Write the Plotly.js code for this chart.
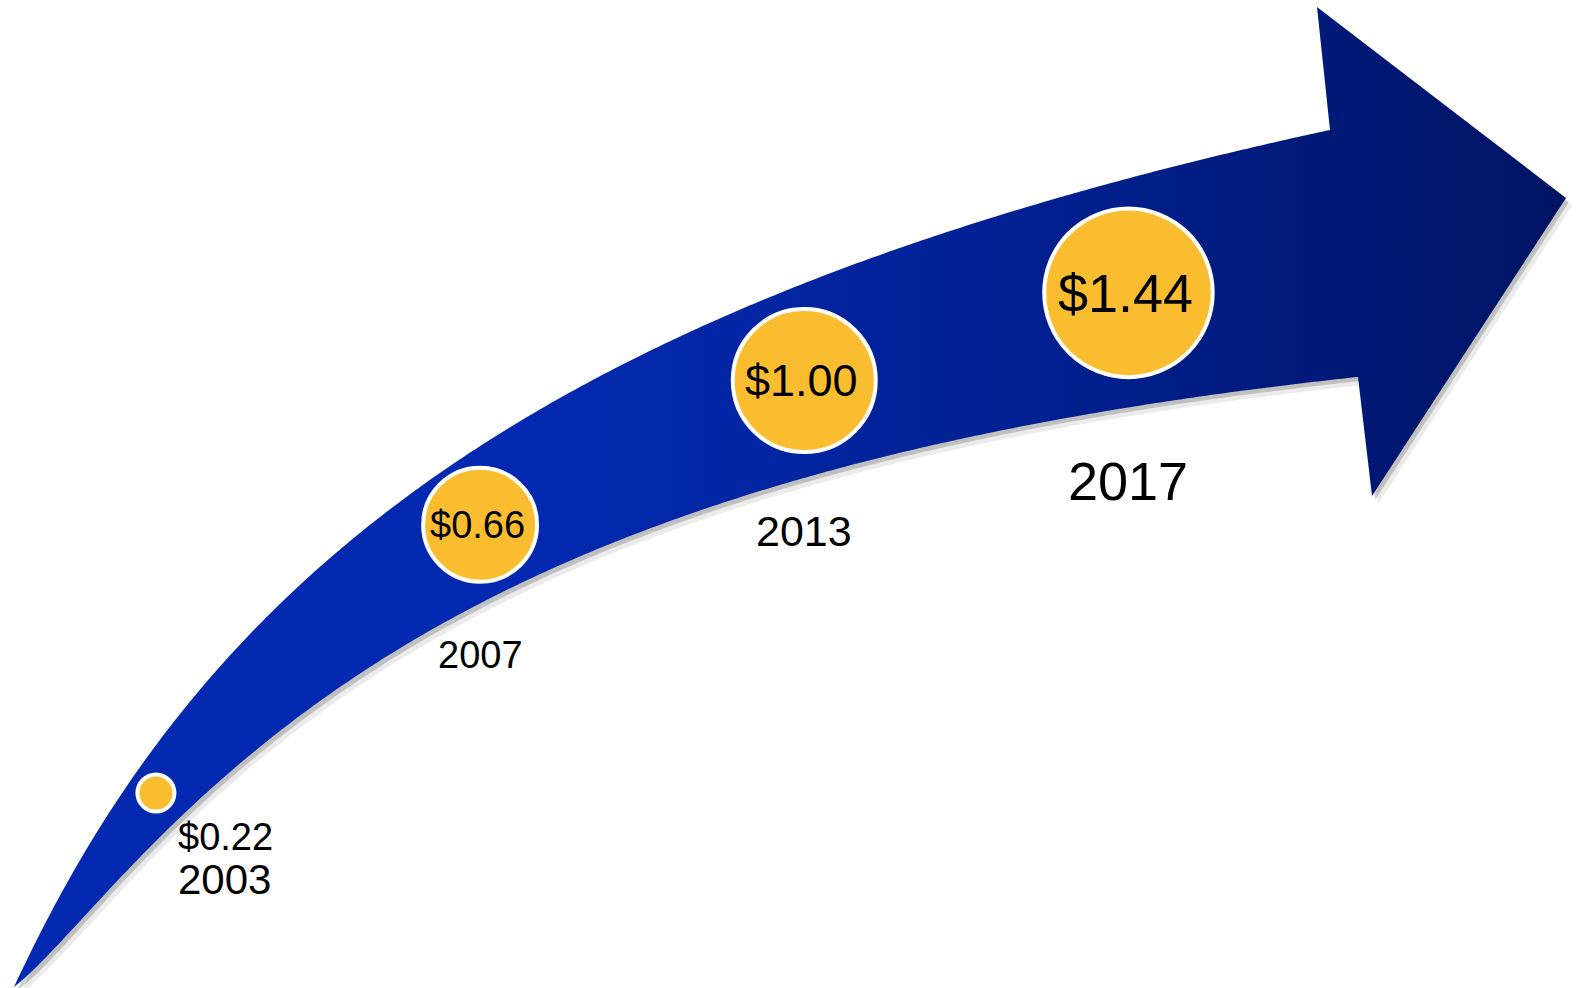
<!DOCTYPE html>
<html><head><meta charset="utf-8">
<script src="https://cdn.plot.ly/plotly-3.0.1.min.js"></script>
<style>html,body{margin:0;padding:0;background:#fff;overflow:hidden}#chart{width:1581px;height:988px}</style>
</head><body><div id="chart"></div>
<script>
// ---------------- data ----------------
const years = ['2003', '2007', '2013', '2017'];
const values = [0.22, 0.66, 1.00, 1.44];
const valueLabels = values.map(v => '$' + v.toFixed(2));

// ---------------- style / decoration ----------------
const W = 1581, H = 988;
const FONT = 'Liberation Sans, Arial, Helvetica, sans-serif';
const valueFont = [38, 38, 45, 54];
const yearFont = [42, 38, 43, 54];
const yearDrop = [86, 130, 150, 188];   // label distance below circle centre (px)
const CAT_RANGE = [-0.481, 4.396];

// decorative arrow: traced edge samples (page pixels), smoothed by a least-squares fit
const EDGE_TOP = [[14,987],[40,927],[67,887],[107,827],[113,797],[133,765],[140,760],[173,737],[183,710],[200,680],[233,650],[240,667],[267,612],[300,583],[400,500],[480,447],[500,433],[600,380],[620,367],[680,333],[700,328],[780,292],[880,250],[1040,202],[1330,130]];
const EDGE_BOTTOM = [[14,987],[40,963],[100,900],[140,863],[187,807],[207,807],[233,757],[300,707],[320,698],[400,647],[433,633],[520,580],[567,573],[633,533],[680,517],[700,513],[733,500],[800,480],[833,470],[880,457],[933,447],[1000,430],[1040,418],[1100,410],[1358,377]];
const ARROW_HEAD = [[1317,7],[1566,198],[1372,496]];

function solve(A, b) {
  const n = b.length;
  for (let i = 0; i < n; i++) {
    let m = i;
    for (let r = i + 1; r < n; r++) if (Math.abs(A[r][i]) > Math.abs(A[m][i])) m = r;
    [A[i], A[m]] = [A[m], A[i]]; [b[i], b[m]] = [b[m], b[i]];
    for (let r = i + 1; r < n; r++) {
      const f = A[r][i] / A[i][i];
      for (let c = i; c < n; c++) A[r][c] -= f * A[i][c];
      b[r] -= f * b[i];
    }
  }
  const x = new Array(n).fill(0);
  for (let i = n - 1; i >= 0; i--) {
    let s = b[i];
    for (let c = i + 1; c < n; c++) s -= A[i][c] * x[c];
    x[i] = s / A[i][i];
  }
  return x;
}
function fitEdge(pts, deg) {
  const u = x => Math.log(x + 120) - 6;
  const n = deg + 1;
  const A = Array.from({length: n}, () => new Array(n).fill(0));
  const b = new Array(n).fill(0);
  pts.forEach((p, i) => {
    const w = (i === 0 || i === pts.length - 1) ? 40 : 1;
    const uu = u(p[0]);
    const pw = []; for (let k = 0; k < n; k++) pw.push(Math.pow(uu, k));
    for (let r = 0; r < n; r++) { b[r] += w * pw[r] * p[1]; for (let c = 0; c < n; c++) A[r][c] += w * pw[r] * pw[c]; }
  });
  const coef = solve(A, b);
  return x => { const uu = u(x); let s = 0; for (let k = 0; k < n; k++) s += coef[k] * Math.pow(uu, k); return s; };
}
const topF = fitEdge(EDGE_TOP, 3);
const botF = fitEdge(EDGE_BOTTOM, 3);
function sampleEdge(f, x0, x1, step) {
  const out = [];
  for (let x = x0; x < x1; x += step) out.push([x, f(x)]);
  out.push([x1, f(x1)]);
  return out;
}
const x0 = 14;
const topS = sampleEdge(topF, x0, 1330, 4);
const botS = sampleEdge(botF, x0, 1358, 4);
const tipY = (topS[0][1] + botS[0][1]) / 2;
topS[0] = [x0, tipY]; botS[0] = [x0, tipY];
const outline = topS.concat(ARROW_HEAD).concat(botS.slice().reverse());

// circles ride on the arrow's centre line
const catPx = years.map((_, i) => (i - CAT_RANGE[0]) / (CAT_RANGE[1] - CAT_RANGE[0]) * W);
const trackY = catPx.map(x => (topF(x) + botF(x)) / 2);
// circle diameter grows with the value
const diam = values.map(v => 147 + 70 * Math.log(v));

function poly(dx, dy, color) {
  return {
    type: 'scatter', mode: 'lines', xaxis: 'x', yaxis: 'y',
    x: outline.map(p => p[0] + dx), y: outline.map(p => p[1] + dy),
    fill: 'toself', fillcolor: color, line: {width: 0, color: 'rgba(0,0,0,0)', simplify: false},
    hoverinfo: 'skip', showlegend: false
  };
}
const arrow = poly(0, 0, '#0229AF');
arrow.fillgradient = {
  type: 'horizontal',
  colorscale: [[0, '#0229B0'], [0.35, '#0229AF'], [0.7, '#011E8C'], [1, '#001462']]
};

const circles = {
  type: 'scatter', mode: 'markers', xaxis: 'x2', yaxis: 'y',
  x: years, y: trackY,
  marker: {size: diam.map(d => d - 4), color: '#FBBD30', line: {color: '#FFFFFF', width: 4}, opacity: 1},
  hoverinfo: 'skip', showlegend: false
};

const annotations = [];
years.forEach((yr, i) => {
  // category axis: annotations use the category's serial index
  if (i === 0) {
    annotations.push({xref: 'x2', yref: 'y', x: i, y: trackY[i], text: valueLabels[i], showarrow: false,
      xanchor: 'left', yanchor: 'middle', xshift: 20, yshift: -44, font: {family: FONT, size: valueFont[i], color: '#000'}});
    annotations.push({xref: 'x2', yref: 'y', x: i, y: trackY[i], text: yr, showarrow: false,
      xanchor: 'left', yanchor: 'middle', xshift: 20, yshift: -yearDrop[i], font: {family: FONT, size: yearFont[i], color: '#000'}});
  } else {
    annotations.push({xref: 'x2', yref: 'y', x: i, y: trackY[i], text: valueLabels[i], showarrow: false,
      xanchor: 'center', yanchor: 'middle', xshift: -3, yshift: 0, font: {family: FONT, size: valueFont[i], color: '#000'}});
    annotations.push({xref: 'x2', yref: 'y', x: i, y: trackY[i], text: yr, showarrow: false,
      xanchor: 'center', yanchor: 'middle', yshift: -yearDrop[i], font: {family: FONT, size: yearFont[i], color: '#000'}});
  }
});

const layout = {
  width: W, height: H, margin: {l: 0, r: 0, t: 0, b: 0},
  paper_bgcolor: '#FFFFFF', plot_bgcolor: '#FFFFFF', showlegend: false,
  xaxis: {range: [0, W], visible: false, fixedrange: true},
  xaxis2: {type: 'category', categoryorder: 'array', categoryarray: years, range: CAT_RANGE,
           overlaying: 'x', visible: false, fixedrange: true, anchor: 'y'},
  yaxis: {range: [H, 0], visible: false, fixedrange: true},
  annotations: annotations,
  hovermode: false
};

Plotly.newPlot('chart', [
  poly(6, 8, 'rgba(0,0,0,0.08)'),
  poly(3, 4, 'rgba(0,0,0,0.18)'),
  arrow,
  circles
], layout, {displayModeBar: false, staticPlot: true});
</script>
</body></html>
